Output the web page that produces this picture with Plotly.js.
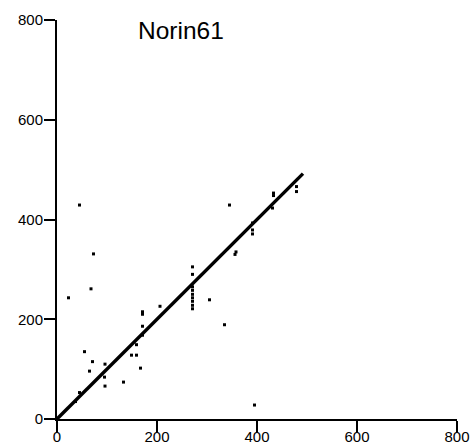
<!DOCTYPE html>
<html>
<head>
<meta charset="utf-8">
<script src="https://cdn.plot.ly/plotly-3.0.1.min.js"></script>
<style>html,body{margin:0;padding:0;background:#fff;}#chart{width:475px;height:447px;}</style>
</head>
<body>
<div id="chart"></div>
<script>
var chartTitle = "Norin61";
var tickVals = [0, 200, 400, 600, 800];
var tickText = ["0", "200", "400", "600", "800"];

// main diagonal (self-match) end points
var diagX = [0, 492];
var diagY = [0, 492];

// off-diagonal matches
var offX = [45, 73, 68, 23, 55, 71, 65, 96, 95, 96, 133, 149, 159, 167, 171, 171, 171, 206,
            271, 271, 271, 271, 271, 271, 271, 271, 271,
            305, 335, 345, 356, 358, 391, 391, 391, 395, 433, 433, 479, 479, 431, 45, 37, 159, 171];
var offY = [429, 331, 261, 243, 135, 115, 96, 110, 84, 66, 74, 128, 128, 102, 186, 215, 210, 226,
            305, 290, 265, 258, 250, 243, 236, 228, 221,
            239, 189, 429, 330, 335, 393, 379, 371, 28, 453, 448, 466, 456, 423, 53, 35, 149, 168];

var axisCommon = {
  range: [0, 800],
  tickvals: tickVals,
  ticktext: tickText,
  showgrid: false,
  zeroline: false,
  showline: true,
  linecolor: "#000",
  linewidth: 2,
  ticks: "outside",
  ticklen: 11,
  tickwidth: 2,
  tickcolor: "#000",
  tickfont: {family: "Liberation Sans, Arial, sans-serif", size: 15, color: "#000"},
  fixedrange: true
};

var traces = [
  {x: diagX, y: diagY, mode: "lines", type: "scatter",
   line: {color: "#000", width: 3.4}, hoverinfo: "skip"},
  {x: offX, y: offY, mode: "markers", type: "scatter",
   marker: {symbol: "square", size: 3, color: "#000", line: {width: 0}}}
];

var layout = {
  width: 475, height: 447,
  margin: {l: 57, r: 18, t: 20, b: 28, pad: 0},
  paper_bgcolor: "#fff", plot_bgcolor: "#fff",
  showlegend: false,
  xaxis: Object.assign({}, axisCommon, {ticklabelstandoff: -8}),
  yaxis: Object.assign({}, axisCommon, {ticklabelstandoff: -2}),
  annotations: [{
    text: chartTitle, xref: "x", yref: "y", x: 248, y: 778,
    xanchor: "center", yanchor: "middle", showarrow: false,
    font: {family: "Liberation Sans, Arial, sans-serif", size: 24.5, color: "#000"}
  }]
};

Plotly.newPlot("chart", traces, layout, {displayModeBar: false, staticPlot: true});
</script>
</body>
</html>
